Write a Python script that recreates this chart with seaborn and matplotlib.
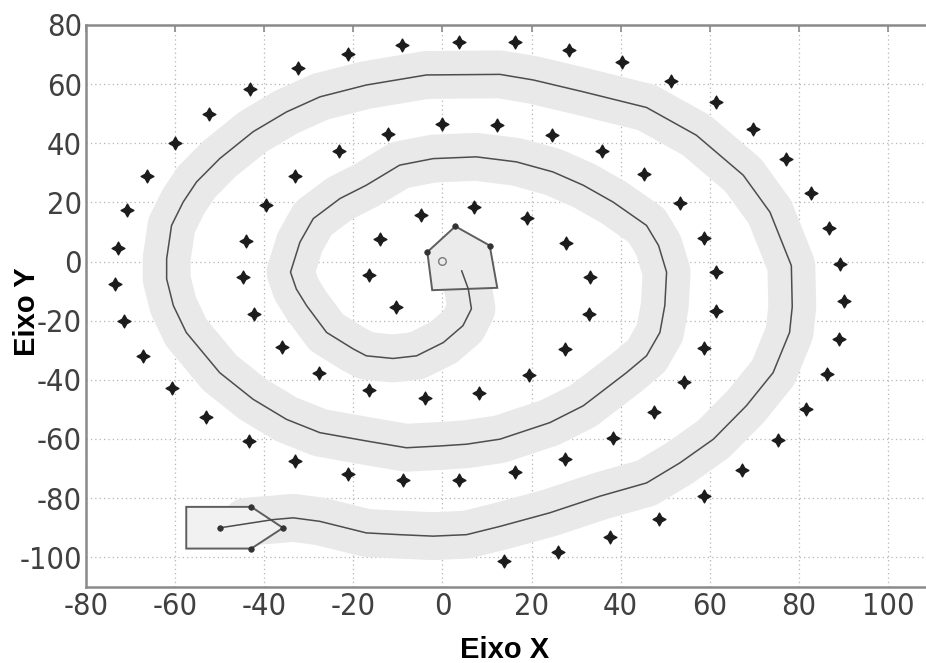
import matplotlib
matplotlib.use("Agg")
import matplotlib.pyplot as plt
import numpy as np
import pandas as pd
import seaborn as sns
from matplotlib import font_manager as fm

# Robot trajectory (spiral), from the start pose at the centre outwards
path_x = [4.3, 5.8, 6.5, 4.6, 0.2, -5.8, -11.1, -17.1, -20.0, -26.0, -30.5, -32.8,
          -34.1, -32.0, -29.0, -23.0, -17.1, -9.6, -2.1, 7.6, 16.6, 24.8, 31.6, 38.3,
          45.8, 48.5, 50.3, 49.9, 48.8, 45.8, 41.3, 31.6, 24.1, 12.9, 5.4, -0.6,
          -8.1, -17.1, -27.5, -35.0, -42.5, -50.0, -57.5, -60.4, -61.9, -61.9, -60.8,
          -58.2, -55.2, -50.0, -42.5, -35.0, -27.5, -17.1, -3.6, 12.9, 20.4, 31.6,
          45.8, 57.0, 67.5, 73.5, 78.3, 78.5, 77.9, 74.2, 68.2, 60.8, 53.3, 45.8,
          35.3, 24.1, 12.9, 5.4, -2.1, -9.6, -17.1, -27.5, -33.5, -38.0, -50.0]
path_y = [-3.1, -9.3, -16.0, -21.7, -27.4, -31.9, -32.8, -31.9, -29.6, -24.0, -14.9, -9.3,
          -3.6, 6.5, 14.5, 21.3, 25.8, 32.6, 34.8, 35.4, 33.7, 30.3, 25.8, 20.1,
          12.2, 5.4, -3.6, -14.9, -24.0, -31.9, -37.6, -48.8, -54.5, -60.1, -61.8, -62.4,
          -63.0, -60.7, -57.9, -53.4, -46.6, -37.6, -24.0, -14.9, -5.9, 0.9, 12.2,
          20.1, 26.9, 34.8, 43.9, 50.6, 55.7, 59.7, 63.1, 63.3, 61.4, 57.4,
          52.1, 42.7, 29.2, 16.7, -1.4, -15.3, -24.0, -37.6, -48.8, -60.1, -68.1, -74.9,
          -79.4, -85.0, -89.6, -92.4, -92.9, -92.4, -91.8, -87.9, -86.7, -87.3, -90.1]

# Landmarks along the spiral corridor
mark_x = [-73.4, -72.9, -70.7, -66.2, -60.1, -52.3, -43.3, -32.5, -21.1, -9.0, 3.6, 16.2,
          28.5, 40.2, 51.4, 61.3, 69.8, 77.0, 82.8, 86.8, 89.3, 90.2, 88.9, 86.2,
          81.5, 75.4, 67.3, 58.6, 48.5, 37.5, 26.0, 13.7,
          -71.4, -67.1, -60.8, -53.0, -43.5, -33.0, -21.1, -8.8, 3.8, 16.2, 27.6, 38.2,
          47.4, 54.3, 58.8, 61.3, 61.3, 58.6, 53.2, 45.3, 35.9, 24.5, 12.3, 0.0,
          -12.3, -23.3, -33.0, -39.7, -44.2, -44.7, -42.2, -36.1, -27.6, -16.4, -4.0, 8.3,
          19.5, 27.6, 32.8, 33.0, 27.8, 18.9, 7.0, -4.9, -14.1, -16.4, -10.5]
mark_y = [-7.5, 4.7, 17.3, 28.8, 40.0, 49.9, 58.3, 65.5, 70.2, 73.3, 74.3, 74.3,
          71.6, 67.5, 61.1, 53.9, 44.8, 34.6, 23.1, 11.2, -1.0, -13.2, -26.1, -38.0,
          -49.9, -60.4, -70.6, -79.4, -87.2, -93.3, -98.4, -101.4,
          -20.0, -31.9, -42.7, -52.6, -60.7, -67.5, -71.9, -73.9, -73.9, -71.2, -66.8, -59.7,
          -50.9, -40.7, -29.2, -16.6, -3.7, 8.1, 19.7, 29.5, 37.3, 42.7, 46.1, 46.5,
          43.1, 37.3, 28.8, 19.0, 7.1, -5.4, -17.6, -28.8, -37.7, -43.4, -46.1, -44.4,
          -38.3, -29.5, -17.6, -5.4, 6.1, 14.6, 18.3, 15.6, 7.5, -4.4, -15.3]

# Robot footprint at the start (pentagon) and at the end (arrow-shaped body)
start_x = [-3.4, 2.9, 10.6, 12.3, -2.3]
start_y = [3.2, 11.9, 5.4, -8.9, -9.7]
end_x = [-57.5, -42.9, -35.8, -42.9, -57.5]
end_y = [-83.0, -83.0, -90.1, -97.1, -97.1]
end_center = (-50.0, -90.1)
origin = (0.0, 0.0)

x_ticks = list(range(-80, 101, 20))
y_ticks = list(range(-100, 81, 20))

sns.set_style("white")
plt.rcParams["font.family"] = ["Liberation Sans", "DejaVu Sans"]
plt.rcParams["axes.unicode_minus"] = False


def narrow_tick_font():
    """Prefer a condensed face for the tick numbers; fall back to a smaller regular one."""
    prefs = ["LiberationSansNarrow-Regular", "DejaVuSansCondensed.ttf",
             "Narrow", "Condensed"]
    files = [f.fname for f in fm.fontManager.ttflist]
    files += fm.findSystemFonts()
    for key in prefs:
        for fn in files:
            low = fn.lower()
            if key.lower() in low and "bold" not in low and "oblique" not in low \
                    and "italic" not in low:
                return fm.FontProperties(fname=fn, size=22), True
    return fm.FontProperties(family="Liberation Sans", size=18), False


tick_fp, is_narrow = narrow_tick_font()

W, H = 926, 663
fig = plt.figure(figsize=(W / 100, H / 100), dpi=100)
ax = fig.add_axes([86 / W, 76.3 / H, (932.6 - 86) / W, (586.7 - 25) / H])

path = pd.DataFrame({"x": path_x, "y": path_y})
band = pd.concat([path.iloc[:80], pd.DataFrame({"x": [-44.0], "y": [-88.0]})], ignore_index=True)

# corridor band
sns.lineplot(data=band, x="x", y="y", sort=False, estimator=None, ax=ax,
             color="#e9e9e9", linewidth=34.5, solid_capstyle="round",
             solid_joinstyle="round", zorder=1)

# footprints
ax.fill(start_x, start_y, facecolor="#ebebeb", edgecolor="#5e5e5e", linewidth=1.4, zorder=3)
ax.fill(end_x, end_y, facecolor="#f1f1f1", edgecolor="#5e5e5e", linewidth=1.4, zorder=3)

# trajectory
sns.lineplot(data=path, x="x", y="y", sort=False, estimator=None, ax=ax,
             color="#4d4d4d", linewidth=1.1, zorder=4)

# landmarks
sns.scatterplot(x=mark_x, y=mark_y, ax=ax, marker=(4, 1, 0), s=85,
                color="#1c1c1c", edgecolor="#1c1c1c", linewidth=1.0, zorder=5)

# footprint vertices
vx = [start_x[0], start_x[1], start_x[2], end_x[1], end_x[2], end_x[3], end_center[0]]
vy = [start_y[0], start_y[1], start_y[2], end_y[1], end_y[2], end_y[3], end_center[1]]
sns.scatterplot(x=vx, y=vy, ax=ax, marker="o", s=16, color="#333333",
                edgecolor="#333333", linewidth=0.5, zorder=6)
sns.scatterplot(x=[origin[0]], y=[origin[1]], ax=ax, marker="o", s=30,
                facecolor="none", edgecolor="#7a7a7a", linewidth=1.0, zorder=6)

ax.set_xlim(-80, 110)
ax.set_ylim(-110, 80)
ax.set_xticks(x_ticks)
ax.set_yticks(y_ticks)
ax.set_xticklabels([str(t) for t in x_ticks], fontproperties=tick_fp, color="#404040")
ax.set_yticklabels([str(t) for t in y_ticks], fontproperties=tick_fp, color="#404040")

ax.set_axisbelow(True)
ax.grid(True, linestyle=(0, (1, 2.5)), color="#b5b5b5", linewidth=0.9)
ax.tick_params(direction="in", length=5, width=1.2, color="#8a8a8a",
               top=True, right=True)
ax.tick_params(axis="x", pad=4)
ax.tick_params(axis="y", pad=3)
for side in ["left", "bottom", "top", "right"]:
    ax.spines[side].set_color("#8a8a8a")
    ax.spines[side].set_linewidth(1.8)

ax.set_xlabel("Eixo X", fontsize=21, fontweight="bold", color="black")
ax.set_ylabel("Eixo Y", fontsize=21, fontweight="bold", color="black")
ax.xaxis.set_label_coords(0.494, -0.087)
ax.yaxis.set_label_coords(-0.053, 0.49)

fig.savefig("out.png", dpi=100)
